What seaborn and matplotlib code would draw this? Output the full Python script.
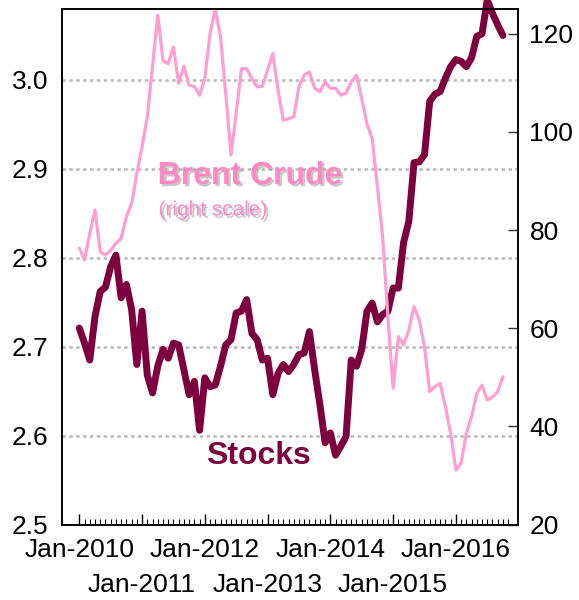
import numpy as np
import pandas as pd
import matplotlib
matplotlib.use("Agg")
import matplotlib.pyplot as plt
import matplotlib.patheffects as pe
import seaborn as sns

# ---- data (monthly, Jan-2010 .. Oct-2016) ----
stocks = [2.721, 2.704, 2.685, 2.734, 2.762, 2.767, 2.790, 2.803, 2.755, 2.770,
          2.742, 2.680, 2.740, 2.668, 2.648, 2.678, 2.697, 2.687, 2.704, 2.702,
          2.674, 2.646, 2.661, 2.606, 2.665, 2.655, 2.657, 2.678, 2.702, 2.708,
          2.738, 2.740, 2.753, 2.715, 2.708, 2.685, 2.687, 2.646, 2.670, 2.680,
          2.672, 2.680, 2.691, 2.693, 2.717, 2.674, 2.635, 2.592, 2.603, 2.578,
          2.588, 2.599, 2.685, 2.678, 2.697, 2.740, 2.749, 2.728, 2.736, 2.740,
          2.766, 2.766, 2.817, 2.841, 2.907, 2.908, 2.916, 2.976, 2.984, 2.987,
          3.002, 3.015, 3.023, 3.021, 3.015, 3.025, 3.049, 3.052, 3.090, 3.075,
          3.062, 3.050]
brent = [76.3, 73.9, 79.3, 84.1, 75.6, 74.9, 75.9, 77.3, 78.3, 82.7,
         85.4, 91.5, 97.0, 103.1, 113.3, 123.8, 114.6, 113.9, 117.3, 109.9,
         113.4, 109.5, 109.3, 107.5, 110.9, 120.1, 125.1, 119.4, 107.8, 95.3,
         103.8, 112.9, 112.9, 110.9, 109.2, 109.3, 112.6, 116.0, 108.5, 102.4,
         102.7, 103.1, 109.2, 111.6, 112.2, 108.9, 108.2, 110.2, 108.9, 108.9,
         107.5, 107.9, 110.2, 111.6, 106.8, 101.7, 98.6, 88.8, 78.6, 62.3,
         47.8, 58.3, 56.6, 59.6, 64.4, 61.7, 56.2, 47.1, 48.1, 48.8,
         44.0, 38.6, 31.1, 32.5, 38.6, 42.0, 46.7, 48.4, 45.4, 46.0,
         47.1, 50.1]
year_labels = ["Jan-2010", "Jan-2011", "Jan-2012", "Jan-2013",
               "Jan-2014", "Jan-2015", "Jan-2016"]
left_ticks = [2.5, 2.6, 2.7, 2.8, 2.9, 3.0]
right_ticks = [20, 40, 60, 80, 100, 120]

df = pd.DataFrame({"month": np.arange(len(stocks)), "stocks": stocks, "brent": brent})

sns.set_theme(style="white")
plt.rcParams["font.family"] = ["Liberation Sans", "DejaVu Sans"]
plt.rcParams["text.color"] = "black"
plt.rcParams["xtick.labelcolor"] = "black"
plt.rcParams["ytick.labelcolor"] = "black"

MAROON = "#7D003F"
PINK = "#FF9ECF"
PINK_TXT = "#FF88C4"

fig = plt.figure(figsize=(5.79, 6.0), dpi=100)
ax = fig.add_axes([0.1076, 0.1258, 0.7876, 0.8587])
ax2 = ax.twinx()

sns.lineplot(data=df, x="month", y="stocks", ax=ax, color=MAROON, linewidth=5,
             clip_on=False, solid_capstyle="round", solid_joinstyle="round")
sns.lineplot(data=df, x="month", y="brent", ax=ax2, color=PINK, linewidth=2.3,
             solid_joinstyle="round")

ax.set_xlim(-3.25, 83.94)
ax.set_ylim(2.5, 3.0795)
ax2.set_ylim(20, 125.0)

# x ticks: even years on first row, odd years on second row
major = np.arange(0, 12 * len(year_labels), 12)
ax.set_xticks(major)
ax.set_xticklabels([lab if k % 2 == 0 else "" for k, lab in enumerate(year_labels)])
ax.set_xticks(np.arange(0, 83), minor=True)
ax.tick_params(axis="x", which="major", direction="in", length=8, width=1,
               color="black", labelsize=19, pad=10, bottom=True)
ax.tick_params(axis="x", which="minor", direction="in", length=4.3, width=0.8,
               color="black", bottom=True)

sec = ax.secondary_xaxis("bottom")
sec.set_xticks(major[1::2])
sec.set_xticklabels(year_labels[1::2])
sec.tick_params(axis="x", length=0, labelsize=19, pad=35, labelcolor="black")
sec.spines["bottom"].set_visible(False)

# left y
ax.set_yticks(left_ticks)
ax.set_yticklabels([f"{v:.1f}" for v in left_ticks])
ax.tick_params(axis="y", length=0, labelsize=19, pad=10, labelcolor="black")
ax.yaxis.grid(True, color="#BBBBBB", linestyle=(0, (1.3, 1.3)), linewidth=1.9)
ax.xaxis.grid(False)
ax.set_axisbelow(True)

# right y
ax2.set_yticks(right_ticks)
ax2.set_yticklabels([str(v) for v in right_ticks])
ax2.tick_params(axis="y", direction="in", length=7, width=1, color="#333333",
                labelsize=19, pad=8, right=True, labelcolor="black")
ax2.grid(False)

for a in (ax, ax2):
    a.set_xlabel("")
    a.set_ylabel("")
    for s in a.spines.values():
        s.set_color("black")
        s.set_linewidth(1.2)
        s.set_visible(True)

shadow = [pe.withSimplePatchShadow(offset=(1.6, -1.6), shadow_rgbFace="#9a9a9a", alpha=0.55)]
fig.text(250 / 579, 1 - 176 / 600, "Brent Crude", ha="center", va="center",
         fontsize=23, fontweight="bold", color=PINK_TXT, path_effects=shadow)
fig.text(213 / 579, 1 - 210 / 600, "(right scale)", ha="center", va="center",
         fontsize=15, color=PINK_TXT, path_effects=shadow)
fig.text(258 / 579, 1 - 456 / 600, "Stocks", ha="center", va="center",
         fontsize=23, fontweight="bold", color=MAROON)

fig.savefig("out.png", dpi=100)
